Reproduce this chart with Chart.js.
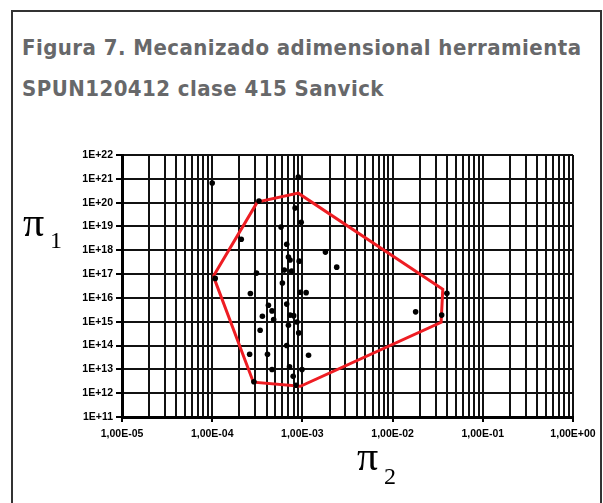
<!DOCTYPE html>
<html>
<head>
<meta charset="utf-8">
<script src="https://cdn.jsdelivr.net/npm/chart.js@4.4.1/dist/chart.umd.min.js"></script>
<style>
    html, body { margin: 0; padding: 0; background: #fff; }
    body { width: 603px; height: 503px; position: relative; overflow: hidden; }
    #frame { position: absolute; left: 11px; top: 10px; width: 587px; height: 510px; border: 2px solid #333; border-bottom: none; }
    #title { position: absolute; left: 22px; top: 27px; font-family: "DejaVu Sans Condensed", "Liberation Sans", sans-serif; font-weight: bold; font-size: 22px; letter-spacing: 0.45px; line-height: 41px; color: #67686a; white-space: nowrap; }
    .sym { position: absolute; font-family: "Liberation Serif", "DejaVu Serif", serif; color: #000; line-height: 1; white-space: nowrap; }
    .big { font-size: 42px; }
    .small { font-size: 24px; }
    canvas { position: absolute; left: 0; top: 0; }
</style>
</head>
<body>
<div id="frame"></div>
<div id="title">Figura 7. Mecanizado adimensional herramienta<br>SPUN120412 clase 415 Sanvick</div>
<canvas id="chart" width="603" height="503"></canvas>
<span class="sym big" style="left:23px; top:201px;">π</span>
<span class="sym small" style="left:50px; top:228px;">1</span>
<span class="sym big" style="left:357px; top:435px;">π</span>
<span class="sym small" style="left:384px; top:464px;">2</span>
<script>
// etiquetas de los ejes
const xTickLabels = ['1,00E-05', '1,00E-04', '1,00E-03', '1,00E-02', '1,00E-01', '1,00E+00'];
const yTickLabels = ['1E+11', '1E+12', '1E+13', '1E+14', '1E+15', '1E+16',
                     '1E+17', '1E+18', '1E+19', '1E+20', '1E+21', '1E+22'];

// ensayos: pi2 (eje x) y pi1 (eje y)
const pi2 = [1.0e-4, 9.0e-4, 3.3e-4, 8.3e-4, 9.7e-4, 5.8e-4, 2.1e-4, 6.7e-4, 1.8e-3, 7.0e-4,
             7.3e-4, 9.2e-4, 2.4e-3, 6.3e-4, 7.6e-4, 3.1e-4, 6.0e-4, 2.65e-4, 9.5e-4, 1.1e-3,
             4.2e-4, 6.7e-4, 4.6e-4, 3.6e-4, 7.3e-4, 4.8e-4, 8.7e-4, 7.0e-4, 3.4e-4, 9.1e-4,
             6.7e-4, 2.6e-4, 4.1e-4, 1.17e-3, 4.6e-4, 7.2e-4, 9.9e-4, 7.9e-4, 2.9e-4, 8.5e-4,
             4.0e-2, 1.8e-2, 3.5e-2, 1.08e-4, 8.0e-4];
const pi1 = [6.7e20, 1.2e21, 1.16e20, 5.9e19, 1.5e19, 9.4e18, 2.9e18, 1.8e18, 8.4e17, 5.2e17,
             3.9e17, 3.5e17, 1.96e17, 1.47e17, 1.33e17, 1.1e17, 4.2e16, 1.54e16, 1.74e16, 1.66e16,
             4.95e15, 5.5e15, 2.85e15, 1.7e15, 1.9e15, 1.24e15, 9.8e14, 7.1e14, 4.4e14, 3.4e14,
             1.0e14, 4.3e13, 4.3e13, 3.9e13, 9.8e12, 1.29e13, 9.8e12, 5.1e12, 3.0e12, 2.15e12,
             1.58e16, 2.6e15, 1.9e15, 6.6e16, 1.8e15];

// contorno rojo (poligono cerrado)
const envX = [1.03e-4, 3.16e-4, 9.0e-4, 3.6e-2, 3.45e-2, 9.5e-4, 2.86e-4, 1.03e-4];
const envY = [8.2e16, 1.05e20, 2.5e20, 2.3e16, 9.5e14, 1.95e12, 2.9e12, 8.2e16];

function isDecade(v) {
    const l = Math.log10(v);
    return Math.abs(l - Math.round(l)) < 1e-9;
}

const tickFont = { family: 'Liberation Sans', size: 10.5, weight: 'bold' };

new Chart(document.getElementById('chart'), {
    type: 'scatter',
    data: {
        datasets: [
            {
                data: pi2.map((x, i) => ({ x: x, y: pi1[i] })),
                backgroundColor: '#000',
                borderWidth: 0,
                pointRadius: 2.8
            },
            {
                data: envX.map((x, i) => ({ x: x, y: envY[i] })),
                showLine: true,
                borderColor: '#ee1d23',
                borderWidth: 3,
                pointRadius: 0,
                fill: false,
                tension: 0
            }
        ]
    },
    options: {
        responsive: false,
        animation: false,
        layout: { padding: { left: 62, right: 30, top: 155, bottom: 46 } },
        plugins: { legend: { display: false }, tooltip: { enabled: false } },
        scales: {
            x: {
                type: 'logarithmic',
                min: 1e-5,
                max: 1,
                afterBuildTicks: function(scale) {
                    const t = [];
                    for (let e = -5; e < 0; e++) {
                        for (let k = 1; k < 10; k++) t.push({ value: k * Math.pow(10, e) });
                    }
                    t.push({ value: 1 });
                    scale.ticks = t;
                },
                afterFit: function(scale) {
                    scale.height = 40;
                    scale.paddingLeft = 0; scale.paddingRight = 0;
                    scale.paddingTop = 0; scale.paddingBottom = 0;
                },
                grid: {
                    color: '#111',
                    lineWidth: 2,
                    tickLength: 5,
                    tickColor: ctx => (ctx.tick && isDecade(ctx.tick.value)) ? '#000' : 'rgba(0,0,0,0)'
                },
                border: { color: '#000', width: 3 },
                ticks: {
                    autoSkip: false,
                    maxRotation: 0,
                    padding: 6,
                    color: '#000',
                    font: tickFont,
                    callback: function(value) {
                        if (!isDecade(value)) return '';
                        return xTickLabels[Math.round(Math.log10(value)) + 5];
                    }
                }
            },
            y: {
                type: 'logarithmic',
                min: 1e11,
                max: 1e22,
                afterBuildTicks: function(scale) {
                    scale.ticks = yTickLabels.map((lab, i) => ({ value: Math.pow(10, 11 + i) }));
                },
                afterFit: function(scale) {
                    scale.width = 60;
                    scale.paddingLeft = 0; scale.paddingRight = 0;
                    scale.paddingTop = 0; scale.paddingBottom = 0;
                },
                grid: { color: '#111', lineWidth: 2, tickLength: 6, tickColor: '#000' },
                border: { color: '#000', width: 3 },
                ticks: {
                    autoSkip: false,
                    padding: 3,
                    color: '#000',
                    font: tickFont,
                    callback: function(value) {
                        return yTickLabels[Math.round(Math.log10(value)) - 11];
                    }
                }
            }
        }
    }
});
</script>
</body>
</html>
